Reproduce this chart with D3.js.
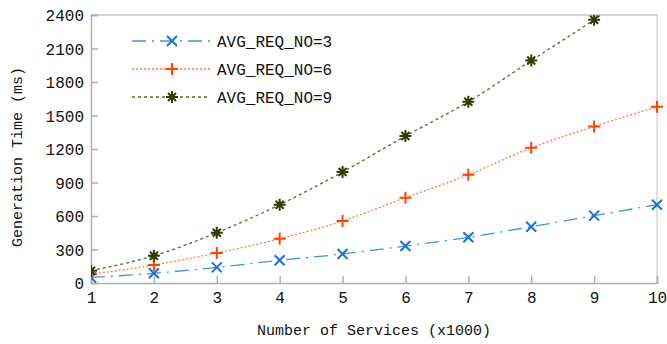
<!DOCTYPE html>
<html>
<head>
<meta charset="utf-8">
<script src="https://cdn.jsdelivr.net/npm/d3@7"></script>
<style>
  body { margin: 0; background: #fff; }
  svg { display: block; font-family: "Liberation Mono", "DejaVu Sans Mono", monospace; }
</style>
</head>
<body>
<div id="chart"></div>
<script>
const services = [1, 2, 3, 4, 5, 6, 7, 8, 9, 10];
const req3 = [50, 87, 140, 203, 260, 331, 409, 504, 603, 701];
const req6 = [78, 161, 269, 397, 555, 764, 969, 1211, 1402, 1578];
const req9 = [110, 244, 450, 701, 994, 1316, 1623, 1992, 2358, 2750];
const yTicks = [0, 300, 600, 900, 1200, 1500, 1800, 2100, 2400];

const seriesList = [
  { name: "AVG_REQ_NO=3", values: req3, color: "#1874cd", line: "#4a90dc", dash: "14,6,2,6", marker: "x" },
  { name: "AVG_REQ_NO=6", values: req6, color: "#ff4500", line: "#ff7a55", dash: "2,2", marker: "plus" },
  { name: "AVG_REQ_NO=9", values: req9, color: "#2f3d00", line: "#5a6630", dash: "3,3", marker: "star" }
];

(() => {
  const W = 667, H = 344;
  const margin = { top: 15, right: 10, bottom: 61, left: 91 };
  const width = W - margin.left - margin.right;
  const height = H - margin.top - margin.bottom;

  const svg = d3.select("#chart").append("svg")
    .attr("width", W).attr("height", H);
  const g = svg.append("g").attr("transform", `translate(${margin.left},${margin.top})`);

  const x = d3.scaleLinear().domain([1, 10]).range([0, width]);
  const y = d3.scaleLinear().domain([0, 2400]).range([height, 0]);

  // frame
  g.append("line").attr("x1", 0).attr("x2", width).attr("y1", 0).attr("y2", 0)
    .attr("stroke", "#d3d3d3").attr("stroke-width", 2);
  g.append("line").attr("x1", width).attr("x2", width).attr("y1", 0).attr("y2", height)
    .attr("stroke", "#c0c0c0").attr("stroke-width", 1);

  // axes, ticks point inwards
  const xAxis = g.append("g").attr("transform", `translate(0,${height})`)
    .call(d3.axisBottom(x).tickValues(services).tickSize(-7).tickPadding(9).tickFormat(d3.format("d")));
  const yAxis = g.append("g")
    .call(d3.axisLeft(y).tickValues(yTicks).tickSize(-7).tickPadding(7).tickFormat(d3.format("d")));
  [xAxis, yAxis].forEach(a => {
    a.select(".domain").attr("stroke", "#b0b0b0").attr("stroke-width", 1.5);
    a.selectAll(".tick line").attr("stroke", "#b0b0b0").attr("stroke-width", 1.5);
    a.selectAll(".tick text").attr("fill", "#111").style("font-size", "16px")
      .style("font-family", "'Liberation Mono', monospace");
  });
  yAxis.selectAll(".tick text").attr("dy", "0.35em");

  // axis titles
  svg.append("text").attr("x", margin.left + width / 2).attr("y", 335)
    .attr("text-anchor", "middle").style("font-size", "15px").attr("fill", "#111")
    .text("Number of Services (x1000)");
  svg.append("text").attr("transform", `translate(22,${margin.top + height / 2 + 8}) rotate(-90)`)
    .attr("text-anchor", "middle").style("font-size", "15px").attr("fill", "#111")
    .text("Generation Time (ms)");

  svg.append("defs").append("clipPath").attr("id", "plot-clip")
    .append("rect").attr("x", 0).attr("y", 0).attr("width", width + 8).attr("height", height);

  const line = d3.line()
    .x(d => x(d[0])).y(d => y(d[1]))
    .curve(d3.curveMonotoneX);

  function drawMarker(sel, type, color) {
    const s = 5;
    let p;
    if (type === "x") p = `M${-s},${-s}L${s},${s}M${-s},${s}L${s},${-s}`;
    else if (type === "plus") p = `M${-s - 1},0L${s + 1},0M0,${-s - 1}L0,${s + 1}`;
    else p = `M${-s - 1},0L${s + 1},0M0,${-s - 1}L0,${s + 1}M${-s + 1},${-s + 1}L${s - 1},${s - 1}M${-s + 1},${s - 1}L${s - 1},${-s + 1}`;
    sel.append("path").attr("d", p).attr("stroke", color).attr("stroke-width", 2).attr("fill", "none");
  }

  const plot = g.append("g").attr("clip-path", "url(#plot-clip)");
  seriesList.forEach(s => {
    const pts = services.map((v, i) => [v, s.values[i]]);
    plot.append("path").datum(pts)
      .attr("d", line)
      .attr("fill", "none")
      .attr("stroke", s.line)
      .attr("stroke-width", 1.3)
      .attr("stroke-dasharray", s.dash);
    pts.filter(p => p[1] <= 2400).forEach(p => {
      const m = plot.append("g").attr("transform", `translate(${x(p[0])},${y(p[1])})`);
      drawMarker(m, s.marker, s.color);
    });
  });

  // legend
  const legend = svg.append("g");
  seriesList.forEach((s, i) => {
    const ly = 41 + i * 28;
    legend.append("line").attr("x1", 132).attr("x2", 210).attr("y1", ly).attr("y2", ly)
      .attr("stroke", s.line).attr("stroke-width", 1.3).attr("stroke-dasharray", s.dash);
    const m = legend.append("g").attr("transform", `translate(172,${ly})`);
    drawMarker(m, s.marker, s.color);
    legend.append("text").attr("x", 217).attr("y", ly).attr("dy", "0.35em")
      .style("font-size", "16px").attr("fill", "#111").text(s.name);
  });
})();
</script>
</body>
</html>
